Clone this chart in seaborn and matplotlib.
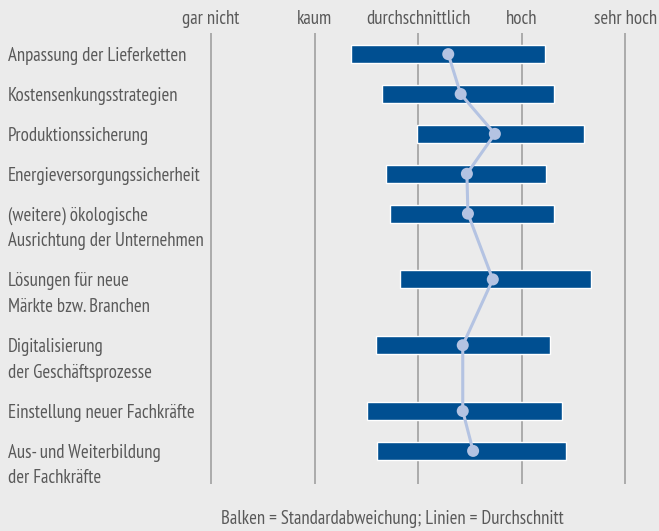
import matplotlib
matplotlib.use('Agg')
from matplotlib import pyplot as plt
import matplotlib.transforms as mtransforms
import numpy as np
import seaborn as sns

# Werte (Skala 1 = gar nicht ... 5 = sehr hoch)
labels = ['Anpassung der Lieferketten',
          'Kostensenkungsstrategien',
          'Produktionssicherung',
          'Energieversorgungssicherheit',
          '(weitere) ökologische\nAusrichtung der Unternehmen',
          'Lösungen für neue\nMärkte bzw. Branchen',
          'Digitalisierung\nder Geschäftsprozesse',
          'Einstellung neuer Fachkräfte',
          'Aus- und Weiterbildung\nder Fachkräfte']
mean = [3.29, 3.41, 3.74, 3.47, 3.48, 3.72, 3.43, 3.43, 3.53]
bar_low = [2.35, 2.65, 2.99, 2.69, 2.73, 2.82, 2.59, 2.51, 2.60]
bar_high = [4.22, 4.31, 4.60, 4.23, 4.31, 4.67, 4.27, 4.39, 4.43]
scale_labels = ['gar nicht', 'kaum', 'durchschnittlich', 'hoch', 'sehr hoch']
scale_values = [1, 2, 3, 4, 5]
note = 'Balken = Standardabweichung; Linien = Durchschnitt'

bg = '#ebebeb'
bar_col = '#004f91'
line_col = '#b4c3e2'
text_col = '#595959'
grid_col = '#a6a6a6'
fs = 13.5

sns.set_theme(style='white')
plt.rcParams['font.family'] = ['PT Sans Narrow', 'DejaVu Sans']
plt.rcParams['font.stretch'] = 'condensed'

# rows with two-line labels take more vertical space
n_lines = [l.count('\n') + 1 for l in labels]
gaps = [1.0 + 0.65 * (n - 1) for n in n_lines[:-1]]
ypos = np.concatenate([[0.0], np.cumsum(gaps)])

W, H = 659, 531
fig = plt.figure(figsize=(W / 100, H / 100), dpi=100, facecolor=bg)
ax = fig.add_axes([0, 47 / H, 1, (484 - 33) / H])
ax.set_facecolor(bg)

unit = 103.6
ax.set_xlim(1 - 211 / unit, 1 + (W - 211) / unit)
ax.set_ylim(ypos[-1] + 0.83, -0.53)

for v in scale_values:
    ax.axvline(v, color=grid_col, lw=1.3, zorder=0)

ax.barh(ypos, np.array(bar_high) - np.array(bar_low), left=bar_low,
        height=0.45, color=bar_col, zorder=2)

sns.lineplot(x=mean, y=ypos, sort=False, estimator=None, color=line_col,
             lw=2.2, ax=ax, zorder=3)
sns.scatterplot(x=mean, y=ypos, color=line_col, s=75, edgecolor='none',
                ax=ax, zorder=4)

for s in ax.spines.values():
    s.set_visible(False)
ax.set_xticks([])
ax.set_yticks([])

# category labels, one text per line, first line level with the bar
trans = mtransforms.blended_transform_factory(fig.transFigure, ax.transData)
for lab, y in zip(labels, ypos):
    for k, part in enumerate(lab.split('\n')):
        off = mtransforms.ScaledTranslation(0, -25.5 * k / 100, fig.dpi_scale_trans)
        ax.text(8 / W, y, part, transform=trans + off, ha='left',
                va='center_baseline', fontsize=fs, color=text_col)

trans2 = mtransforms.blended_transform_factory(ax.transData, fig.transFigure)
for v, lab in zip(scale_values, scale_labels):
    ax.text(v, 1 - 17 / H, lab, transform=trans2, ha='center',
            va='center_baseline', fontsize=fs, color=text_col)

fig.text(392 / W, 1 - 517 / H, note, ha='center', va='center_baseline',
         fontsize=fs, color=text_col)

fig.savefig('out.png', dpi=100, facecolor=bg)
